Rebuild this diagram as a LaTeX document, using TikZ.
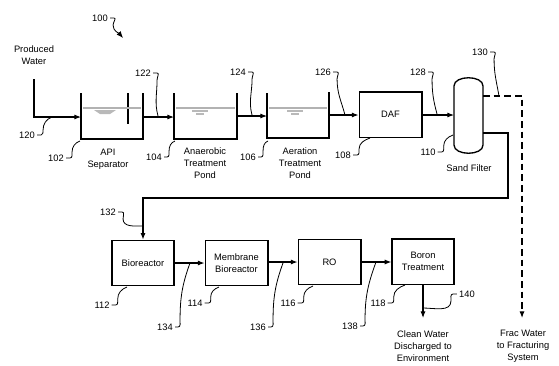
\documentclass[tikz,border=0pt]{standalone}
\usepackage{fontspec}
\setmainfont{Liberation Sans}
\usetikzlibrary{arrows.meta}
\begin{document}
\begin{tikzpicture}[x=0.75pt,y=-0.75pt,
  txt/.style={font=\fontsize{7}{9}\selectfont, align=center, inner sep=0pt},
  num/.style={font=\fontsize{7}{9}\selectfont, inner sep=0pt},
  wall/.style={line width=1pt},
  flow/.style={line width=0.8pt,-{Latex[length=5pt,width=3.8pt]}},
  lead/.style={line width=0.6pt},
  box/.style={draw, line width=1pt, minimum width=47pt, minimum height=34pt, inner sep=0pt, font=\fontsize{7}{9}\selectfont, align=center},
  water/.style={gray!60, line width=0.9pt}]
\useasboundingbox (0,0) rectangle (559,365);
% title
\node[num] (n100) at (100,18) {100};
\coordinate (t100) at (123,38);
\draw[lead,-{Latex[length=5pt,width=4pt]}] (n100.east) ++(2,0) -- ++(4,0) to[out=0,in=90] ++(-1,7) to[out=-90,in=130] (t100);
% produced water
\node[txt] (pw) at (34,55) {Produced\\Water};
\coordinate (pin) at (34,79);
\coordinate (pbend) at (34,117);
% API separator tank
\coordinate (api1) at (81,93);
\coordinate (api2) at (143,93);
\draw[wall] (api1) -- (81,139) -- (143,139) -- (api2);
\draw[wall] (128,93) -- (128,124);
\draw[water] (83,108) -- (141,108);
\fill[gray!55] (94,110) -- (116,110) -- (110,114) -- (100,114) -- cycle;
\node[txt] (apit) at (108,159) {API\\Separator};
\draw[flow] (pin) -- (pbend) -- (81,117);
% anaerobic pond
\draw[wall] (174,93) -- (174,139) -- (237,139) -- (237,93);
\draw[water] (176,108) -- (235,108);
\draw[gray!55, line width=0.8pt] (192,111) -- (208,111) (196,114) -- (204,114);
\node[txt] (anat) at (205,163) {Anaerobic\\Treatment\\Pond};
\draw[flow] (143,117) -- (174,117);
% aeration pond
\draw[wall] (267,93) -- (267,138) -- (329,138) -- (329,92);
\draw[water] (269,108) -- (327,108);
\draw[gray!55, line width=0.8pt] (287,111) -- (303,111) (291,114) -- (299,114);
\node[txt] (aert) at (300,163) {Aeration\\Treatment\\Pond};
\draw[flow] (237,116) -- (267,116);
% DAF
\node[box] (daf) at (390.5,114.5) {DAF};
\draw[flow] (329,115) -- (daf.west |- 0,115);
% sand filter
\draw[wall] (454,86) .. controls (454,75) and (483,75) .. (483,86) -- (483,145) .. controls (483,156) and (454,156) .. (454,145) -- cycle;
\coordinate (sfin) at (454,115);
\node[txt] (sft) at (469,168) {Sand Filter};
\draw[flow] (daf.east |- 0,115) -- (sfin);
% frac water dashed
\node[txt] (frac) at (523,346) {Frac Water\\to Fracturing\\System};
\draw[line width=0.8pt, dash pattern=on 5pt off 3pt,-{Latex[length=5pt,width=3.8pt]}] (483,96) -- (522,96) -- (522,318);
% lower row
\node[box, minimum width=46.5pt] (bio) at (143,263) {Bioreactor};
\node[box] (mem) at (236.5,263) {Membrane\\Bioreactor};
\node[box] (ro) at (329.5,262) {RO};
\node[box, minimum width=46.5pt] (bor) at (423,261.5) {Boron\\Treatment};
\draw[line width=0.8pt,-{Latex[length=5pt,width=3.8pt]}] (483,133) -- (508,133) -- (508,198) -- (143,198) -- (bio.north);
\draw[flow] (bio.east |- 0,263) -- (mem.west |- 0,263);
\draw[flow] (mem.east |- 0,262) -- (ro.west |- 0,262);
\draw[flow] (ro.east |- 0,262) -- (bor.west |- 0,262);
\coordinate (cwend) at (423,318);
\draw[flow] (bor.south) -- (cwend);
\node[txt] (cw) at (423,346) {Clean Water\\Discharged to\\Environment};
% leaders going down (label left, target below right)
\node[num] (n122) at (143,73) {122};
\coordinate (t122) at (158,116);
\draw[lead] (n122.east) ++(2,0) -- ++(4,0) to[out=0,in=90] ++(0,7) to[out=-90,in=105] (t122);
\node[num] (n124) at (238,72) {124};
\coordinate (t124) at (252,115);
\draw[lead] (n124.east) ++(2,0) -- ++(4,0) to[out=0,in=90] ++(0,7) to[out=-90,in=105] (t124);
\node[num] (n126) at (323,72) {126};
\coordinate (t126) at (345,115);
\draw[lead] (n126.east) ++(2,0) -- ++(4,0) to[out=0,in=90] ++(0,7) to[out=-90,in=105] (t126);
\node[num] (n128) at (418,72) {128};
\coordinate (t128) at (437,114);
\draw[lead] (n128.east) ++(2,0) -- ++(4,0) to[out=0,in=90] ++(0,7) to[out=-90,in=105] (t128);
\node[num] (n130) at (480,52) {130};
\coordinate (t130) at (499,96);
\draw[lead] (n130.east) ++(2,0) -- ++(4,0) to[out=0,in=90] ++(0,7) to[out=-90,in=100] (t130);
\node[num] (n132) at (108,212) {132};
\coordinate (t132) at (143,226);
\draw[lead] (n132.east) ++(2,0) -- ++(4,0) to[out=0,in=90] ++(1,7) to[out=-90,in=180] (t132);
% leaders going up (label left, target above right)
\node[num] (n120) at (27,135) {120};
\coordinate (t120) at (52,117);
\draw[lead] (n120.east) ++(2,0) -- ++(4,0) to[out=0,in=-90] ++(2,-5) to[out=90,in=200] (t120);
\node[num] (n102) at (56,158) {102};
\coordinate (t102) at (80,141);
\draw[lead] (n102.east) ++(2,0) -- ++(4,0) to[out=0,in=-90] ++(2,-6) to[out=90,in=200] (t102);
\node[num] (n104) at (154,157) {104};
\coordinate (t104) at (175,141);
\draw[lead] (n104.east) ++(2,0) -- ++(3,0) to[out=0,in=-90] ++(2,-6) to[out=90,in=200] (t104);
\node[num] (n106) at (248,157) {106};
\coordinate (t106) at (268,141);
\draw[lead] (n106.east) ++(2,0) -- ++(3,0) to[out=0,in=-90] ++(2,-6) to[out=90,in=200] (t106);
\node[num] (n108) at (343,155) {108};
\coordinate (t108) at (370,138);
\draw[lead] (n108.east) ++(2,0) -- ++(4,0) to[out=0,in=-90] ++(2,-6) to[out=90,in=200] (t108);
\node[num] (n110) at (428,152) {110};
\coordinate (t110) at (453,135);
\draw[lead] (n110.east) ++(2,0) -- ++(4,0) to[out=0,in=-90] ++(2,-6) to[out=90,in=200] (t110);
\node[num] (n112) at (102,305) {112};
\coordinate (t112) at (127,287);
\draw[lead] (n112.east) ++(2,0) -- ++(4,0) to[out=0,in=-90] ++(2,-6) to[out=90,in=200] (t112);
\node[num] (n114) at (195,303) {114};
\coordinate (t114) at (219,287);
\draw[lead] (n114.east) ++(2,0) -- ++(4,0) to[out=0,in=-90] ++(2,-6) to[out=90,in=200] (t114);
\node[num] (n116) at (288,303) {116};
\coordinate (t116) at (313,286);
\draw[lead] (n116.east) ++(2,0) -- ++(4,0) to[out=0,in=-90] ++(2,-6) to[out=90,in=200] (t116);
\node[num] (n118) at (378,303) {118};
\coordinate (t118) at (405,285);
\draw[lead] (n118.east) ++(2,0) -- ++(4,0) to[out=0,in=-90] ++(2,-6) to[out=90,in=200] (t118);
% long leaders 134,136,138
\node[num] (n134) at (165,327) {134};
\coordinate (t134) at (190,263);
\draw[lead] (n134.east) ++(2,0) -- ++(3,0) to[out=0,in=-90] ++(2,-7) to[out=90,in=250] (t134);
\node[num] (n136) at (258,327) {136};
\coordinate (t136) at (283,263);
\draw[lead] (n136.east) ++(2,0) -- ++(3,0) to[out=0,in=-90] ++(2,-7) to[out=90,in=250] (t136);
\node[num] (n138) at (350,326) {138};
\coordinate (t138) at (376,262);
\draw[lead] (n138.east) ++(2,0) -- ++(3,0) to[out=0,in=-90] ++(2,-7) to[out=90,in=250] (t138);
% 140
\node[num] (n140) at (467,294) {140};
\coordinate (t140) at (423,308);
\draw[lead] (n140.west) ++(-2,0) -- ++(-4,0) to[out=180,in=90] ++(-2,7) to[out=-90,in=0] (t140);
\end{tikzpicture}
\end{document}
